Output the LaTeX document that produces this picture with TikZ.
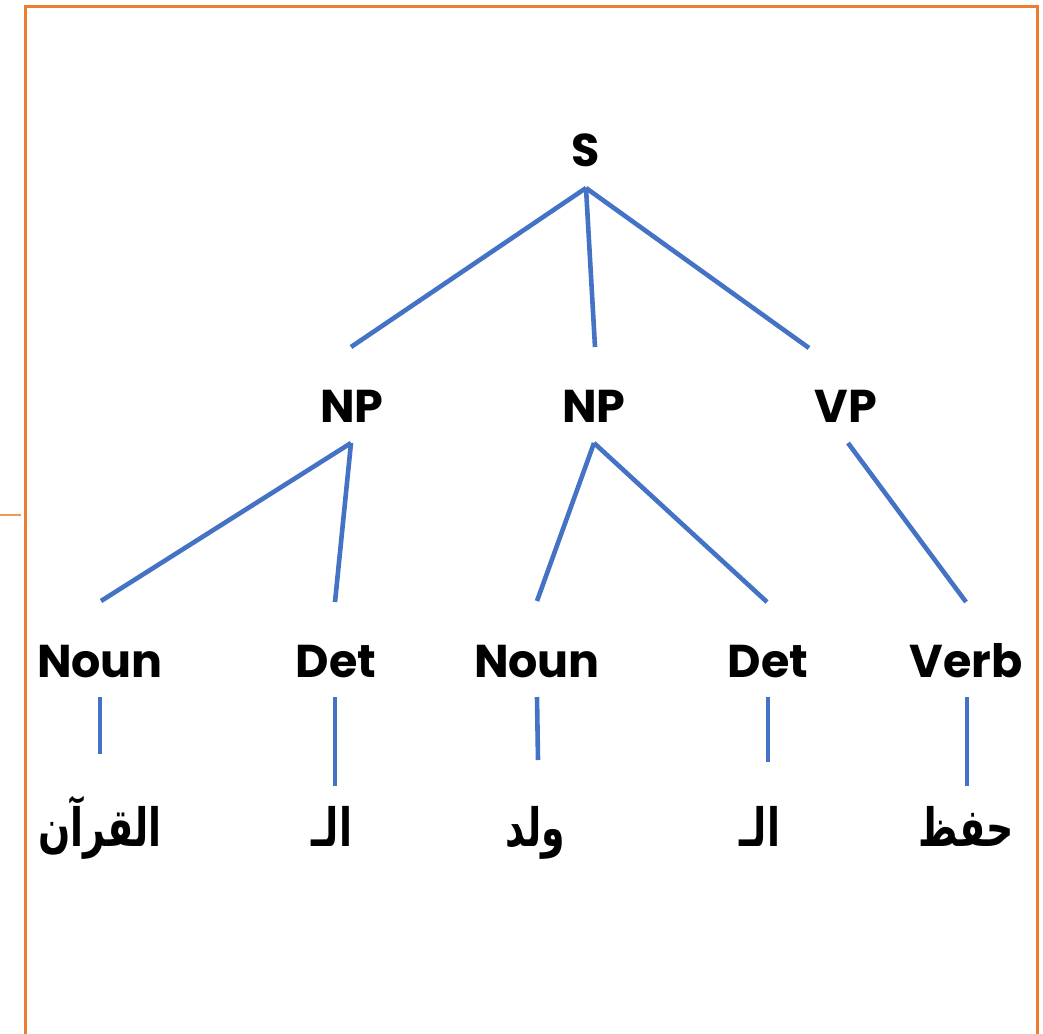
\documentclass[tikz,border=0pt]{standalone}
\usepackage{fontspec}
\setmainfont{Poppins}
\newfontfamily\arabicfont[Script=Arabic]{DejaVu Sans}
\TeXXeTstate=1
\definecolor{treeblue}{HTML}{4472C4}
\definecolor{frameorange}{HTML}{ED7D31}
\begin{document}
\begin{tikzpicture}[x=1pt,y=-1pt,
  lab/.style={font=\fontsize{46}{50}\selectfont\bfseries, anchor=base, inner sep=0pt},
  word/.style={font=\arabicfont\fontsize{44}{50}\selectfont\bfseries, anchor=base, inner sep=0pt,
               transform shape, xscale=0.86, yscale=1.2},
  edge/.style={draw=treeblue, line width=4.6pt},
  frame/.style={draw=frameorange, line width=3pt}]
\useasboundingbox (0,0) rectangle (1043,1033);

% page frame
\draw[frame] (25.5,1040) -- (25.5,6.5) -- (1037,6.5) -- (1037,1040);
\draw[frameorange!80, line width=2pt] (0,515) -- (21,515);

% category labels
\node[lab] (S)     at (586,166) {S};
\node[lab] (NPa)   at (352,422) {NP};
\node[lab] (NPb)   at (594,422) {NP};
\node[lab] (VP)    at (846,422) {VP};
\node[lab] (Nouna) at (100,677) {Noun};
\node[lab] (Deta)  at (336,677) {Det};
\node[lab] (Nounb) at (537,677) {Noun};
\node[lab] (Detb)  at (768,677) {Det};
\node[lab] (Verb)  at (966,677) {Verb};

% words
\node[word] (Wa) at (100,846) {\beginR القرآن\endR};
\node[word] (Wb) at (332,846) {\beginR الـ\endR};
\node[word] (Wc) at (535,846) {\beginR ولد\endR};
\node[word] (Wd) at (760,846) {\beginR الـ\endR};
\node[word] (We) at (966,846) {\beginR حفظ\endR};

% branch end points
\coordinate (S-b)     at (586,188);
\coordinate (NPa-t)   at (351,347);
\coordinate (NPb-t)   at (595,347);
\coordinate (VP-t)    at (809,348);
\coordinate (NPa-b)   at (351,443);
\coordinate (NPb-b)   at (594,443);
\coordinate (VP-b)    at (848,443);
\coordinate (Nouna-t) at (101,601);
\coordinate (Deta-t)  at (335,602);
\coordinate (Nounb-t) at (537,601);
\coordinate (Detb-t)  at (767,602);
\coordinate (Verb-t)  at (966,602);
\coordinate (Nouna-b) at (100,697);
\coordinate (Deta-b)  at (335,697);
\coordinate (Nounb-b) at (537,697);
\coordinate (Detb-b)  at (768,697);
\coordinate (Verb-b)  at (967,697);
\coordinate (Wa-t)    at (100,754);
\coordinate (Wb-t)    at (335,786);
\coordinate (Wc-t)    at (538,760);
\coordinate (Wd-t)    at (768,762);
\coordinate (We-t)    at (967,786);

% branches
\draw[edge] (S-b) -- (NPa-t);
\draw[edge] (S-b) -- (NPb-t);
\draw[edge] (S-b) -- (VP-t);
\draw[edge] (NPa-b) -- (Nouna-t);
\draw[edge] (NPa-b) -- (Deta-t);
\draw[edge] (NPb-b) -- (Nounb-t);
\draw[edge] (NPb-b) -- (Detb-t);
\draw[edge] (VP-b) -- (Verb-t);
\draw[edge] (Nouna-b) -- (Wa-t);
\draw[edge] (Deta-b) -- (Wb-t);
\draw[edge] (Nounb-b) -- (Wc-t);
\draw[edge] (Detb-b) -- (Wd-t);
\draw[edge] (Verb-b) -- (We-t);
\end{tikzpicture}
\end{document}
